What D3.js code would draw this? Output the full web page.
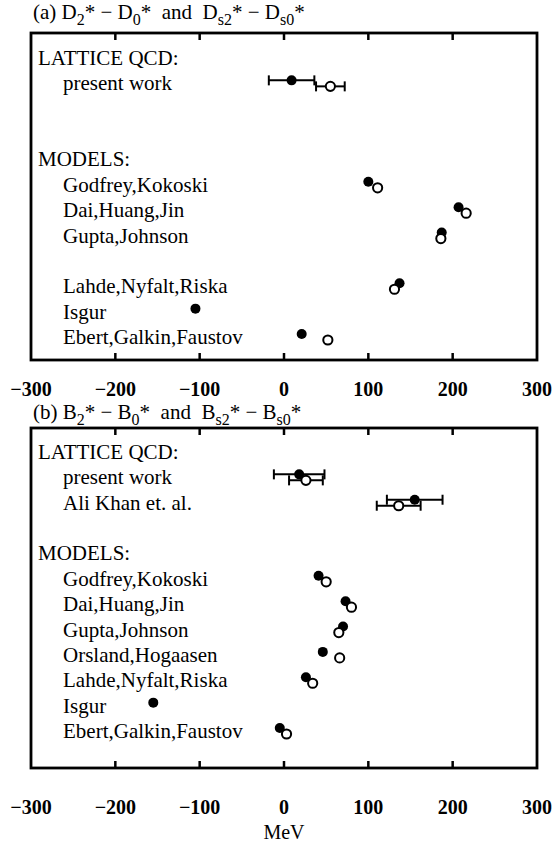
<!DOCTYPE html>
<meta charset="utf-8">
<script src="https://d3js.org/d3.v7.min.js"></script>
<style>
  body { margin: 0; background: #fff; }
  text { font-family: "Liberation Serif", "Times New Roman", serif; fill: #000; white-space: pre; }
</style>
<div id="chart"></div>
<script>

// row labels (same layout in both panels), "" = empty row
var rowsA = ["LATTICE QCD:", "present work", "", "", "MODELS:", "Godfrey,Kokoski", "Dai,Huang,Jin", "Gupta,Johnson", "", "Lahde,Nyfalt,Riska", "Isgur", "Ebert,Galkin,Faustov"];
var rowsB = ["LATTICE QCD:", "present work", "Ali Khan et. al.", "", "MODELS:", "Godfrey,Kokoski", "Dai,Huang,Jin", "Gupta,Johnson", "Orsland,Hogaasen", "Lahde,Nyfalt,Riska", "Isgur", "Ebert,Galkin,Faustov"];
var headers = ["LATTICE QCD:", "MODELS:"];

// (a) D mesons: filled = D2*-D0*, open = Ds2*-Ds0*  (MeV)
var pointsA = ["present work", "Godfrey,Kokoski", "Dai,Huang,Jin", "Gupta,Johnson", "Lahde,Nyfalt,Riska", "Isgur", "Ebert,Galkin,Faustov"];
var filledA = [9, 100, 207, 187, 137, -105, 21];
var filledErrA = [27, 0, 0, 0, 0, 0, 0];
var openA = [55, 111, 216, 186, 131, null, 52];
var openErrA = [17, 0, 0, 0, 0, 0, 0];

// (b) B mesons: filled = B2*-B0*, open = Bs2*-Bs0*  (MeV)
var pointsB = ["present work", "Ali Khan et. al.", "Godfrey,Kokoski", "Dai,Huang,Jin", "Gupta,Johnson", "Orsland,Hogaasen", "Lahde,Nyfalt,Riska", "Isgur", "Ebert,Galkin,Faustov"];
var filledB = [18, 155, 41, 73, 70, 46, 26, -155, -5];
var filledErrB = [30, 33, 0, 0, 0, 0, 0, 0, 0];
var openB = [26, 136, 50, 80, 65, 66, 34, null, 3];
var openErrB = [20, 26, 0, 0, 0, 0, 0, 0, 0];

var xTicks = [-300, -200, -100, 0, 100, 200, 300];

var W = 553, H = 852;
var left = 31, right = 537;

var svg = d3.select("#chart").append("svg")
    .attr("width", W)
    .attr("height", H);

var x = d3.scaleLinear().domain([-300, 300]).range([left, right]);

// one panel: frame top/bottom, y of first and last label row, y of tick labels
function panel(top, bottom, row0, row11, labY, rows, names, filled, fErr, open, oErr) {
  var g = svg.append("g");
  var y = d3.scaleLinear().domain([0, 11]).range([row0, row11]);

  // inward ticks on top and bottom of the frame
  var inner = xTicks.slice(1, -1);
  g.selectAll(".tt").data(inner).enter().append("line")
      .attr("x1", function(d) { return x(d); })
      .attr("x2", function(d) { return x(d); })
      .attr("y1", top).attr("y2", top + 7)
      .attr("stroke", "#000").attr("stroke-width", 2.5);
  g.selectAll(".tb").data(inner).enter().append("line")
      .attr("x1", function(d) { return x(d); })
      .attr("x2", function(d) { return x(d); })
      .attr("y1", bottom).attr("y2", bottom - 7)
      .attr("stroke", "#000").attr("stroke-width", 2.5);

  g.append("rect")
      .attr("x", left).attr("y", top)
      .attr("width", right - left).attr("height", bottom - top)
      .attr("fill", "none").attr("stroke", "#000").attr("stroke-width", 2.8);

  // tick labels
  g.selectAll(".tl").data(xTicks).enter().append("text")
      .attr("x", function(d) { return x(d); })
      .attr("y", labY)
      .attr("text-anchor", "middle")
      .style("font-size", "20px")
      .style("font-weight", "bold")
      .text(function(d) { return d < 0 ? "\u2212" + Math.abs(d) : d; });

  // row labels
  g.selectAll(".rl").data(rows).enter().append("text")
      .attr("x", function(d) { return headers.indexOf(d) >= 0 ? 38 : 63; })
      .attr("y", function(d, i) { return y(i) + 7; })
      .style("font-size", "21px")
      .text(function(d) { return d; });

  var row = function(i) { return rows.indexOf(names[i]); };

  // horizontal error bars with end caps
  function bars(vals, errs, dy) {
    d3.range(names.length)
      .filter(function(i) { return vals[i] != null && errs[i] > 0; })
      .forEach(function(i) {
        var cy = y(row(i)) + dy;
        var x0 = x(vals[i] - errs[i]), x1 = x(vals[i] + errs[i]);
        g.append("line").attr("x1", x0).attr("x2", x1).attr("y1", cy).attr("y2", cy)
            .attr("stroke", "#000").attr("stroke-width", 2);
        [x0, x1].forEach(function(xx) {
          g.append("line").attr("x1", xx).attr("x2", xx).attr("y1", cy - 5).attr("y2", cy + 5)
              .attr("stroke", "#000").attr("stroke-width", 2);
        });
      });
  }
  bars(filled, fErr, -3);
  bars(open, oErr, 3);

  g.selectAll(".pf").data(d3.range(names.length)).enter().append("circle")
      .attr("cx", function(i) { return x(filled[i]); })
      .attr("cy", function(i) { return y(row(i)) - 3; })
      .attr("r", 5)
      .attr("fill", "#000");

  g.selectAll(".po").data(d3.range(names.length).filter(function(i) { return open[i] != null; }))
    .enter().append("circle")
      .attr("cx", function(i) { return x(open[i]); })
      .attr("cy", function(i) { return y(row(i)) + 3; })
      .attr("r", 4.6)
      .attr("fill", "#fff")
      .attr("stroke", "#000")
      .attr("stroke-width", 2);
  return g;
}

panel(33, 360, 58, 337, 396, rowsA, pointsA, filledA, filledErrA, openA, openErrA);
panel(428, 768, 452, 731, 814, rowsB, pointsB, filledB, filledErrB, openB, openErrB);

// panel titles with subscripts
function title(ty, tag, L) {
  var t = svg.append("text").attr("x", 33).attr("y", ty).style("font-size", "21px");
  var seg = [["(" + tag + ") " + L, 0], ["2", 6], ["* \u2212 " + L, -6], ["0", 6],
             ["*  and  " + L, -6], ["s2", 6], ["* \u2212 " + L, -6], ["s0", 6], ["*", -6]];
  seg.forEach(function(s) {
    t.append("tspan").attr("dy", s[1])
      .style("font-size", s[1] > 0 ? "16px" : "21px")
      .text(s[0]);
  });
}
title(19, "a", "D");
title(419, "b", "B");

svg.append("text")
    .attr("x", x(0)).attr("y", 839)
    .attr("text-anchor", "middle")
    .style("font-size", "20px")
    .text("MeV");

</script>
